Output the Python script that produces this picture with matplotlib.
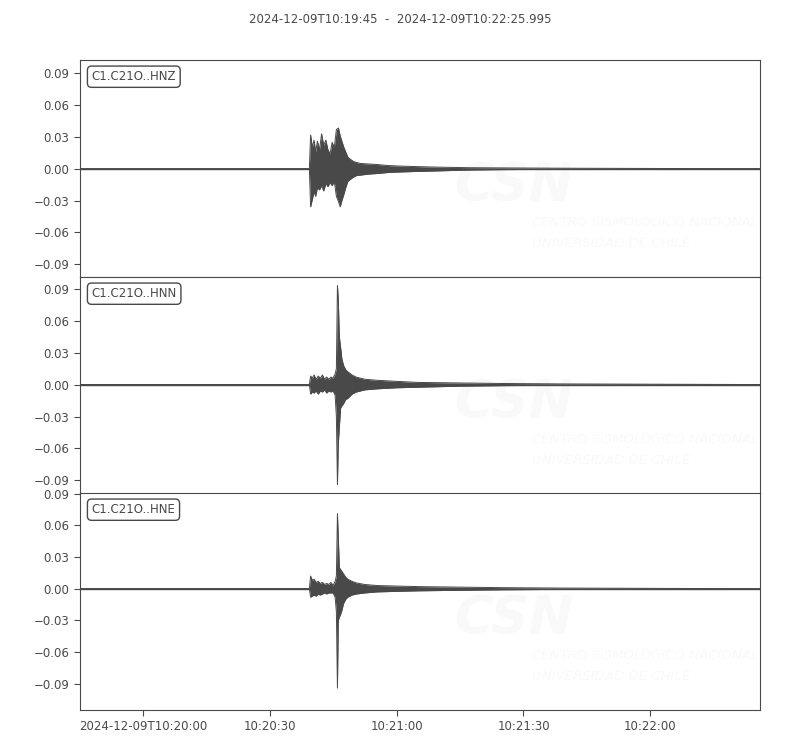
import numpy as np
import matplotlib
matplotlib.use("Agg")
import matplotlib.pyplot as plt
from matplotlib.ticker import MultipleLocator

# --- data --------------------------------------------------------------------
# start / end of the record
t_start = np.datetime64('2024-12-09T10:19:45.000')
t_end = np.datetime64('2024-12-09T10:22:25.995')
title = "2024-12-09T10:19:45  -  2024-12-09T10:22:25.995"

channels = ["C1.C21O..HNZ", "C1.C21O..HNN", "C1.C21O..HNE"]

# envelope of each trace: seconds after t_start, upper and lower amplitude
hnz_t = [0, 54.3, 54.6, 55.0, 55.4, 55.8, 56.2, 56.7, 57.2, 57.7, 58.2, 58.7, 59.2, 59.7, 60.2,
         60.7, 61.2, 61.6, 62.0, 62.4, 62.9, 63.4, 64.0, 64.7, 65.4, 66.4, 68.4, 70.4, 73, 76, 80, 85,
         92, 100, 115, 160.995]
hnz_up = [0, 0, 0.032, 0.020, 0.027, 0.016, 0.026, 0.018, 0.033, 0.022, 0.027, 0.018, 0.014, 0.025,
          0.020, 0.037, 0.0385, 0.031, 0.026, 0.021, 0.016, 0.011, 0.009, 0.007, 0.006, 0.005,
          0.0045, 0.004, 0.003, 0.0025, 0.002, 0.0015, 0.001, 0.0008, 0.0005, 0]
hnz_lo = [0, 0, -0.036, -0.029, -0.022, -0.026, -0.018, -0.020, -0.016, -0.021, -0.014, -0.017,
          -0.013, -0.016, -0.012, -0.026, -0.031, -0.036, -0.030, -0.025, -0.018, -0.012, -0.010,
          -0.008, -0.0065, -0.006, -0.005, -0.0045, -0.0035, -0.003, -0.0025, -0.002, -0.0012,
          -0.0008, -0.0005, 0]

hnn_t = [0, 54.3, 54.6, 55.0, 55.4, 55.9, 56.4, 56.9, 57.4, 57.9, 58.4, 58.9, 59.4, 59.9, 60.4,
         60.7, 60.95, 61.15, 61.4, 61.7, 62.0, 62.4, 62.9, 63.4, 64.4, 65.4, 67.4, 70.4, 75, 80, 90, 100,
         115, 160.995]
hnn_up = [0, 0, 0.008, 0.006, 0.009, 0.005, 0.008, 0.006, 0.009, 0.005, 0.007, 0.005, 0.007, 0.006,
          0.010, 0.015, 0.093, 0.080, 0.045, 0.035, 0.024, 0.018, 0.014, 0.012, 0.009, 0.007,
          0.005, 0.004, 0.003, 0.002, 0.0015, 0.001, 0.0006, 0]
hnn_lo = [0, 0, -0.009, -0.007, -0.008, -0.006, -0.009, -0.006, -0.007, -0.005, -0.008, -0.006,
          -0.007, -0.006, -0.010, -0.030, -0.094, -0.056, -0.040, -0.022, -0.020, -0.018, -0.014,
          -0.013, -0.009, -0.007, -0.005, -0.004, -0.003, -0.0025, -0.0015, -0.001, -0.0006, 0]

hne_t = [0, 54.3, 54.6, 55.0, 55.4, 55.9, 56.4, 56.9, 57.4, 57.9, 58.4, 58.9, 59.4, 59.9, 60.4,
         60.7, 60.95, 61.15, 61.4, 61.9, 62.4, 62.9, 63.4, 64.4, 65.4, 67.4, 70.4, 75, 80, 90, 100,
         115, 160.995]
hne_up = [0, 0, 0.012, 0.008, 0.009, 0.006, 0.007, 0.005, 0.006, 0.004, 0.005, 0.004, 0.006, 0.003,
          0.007, 0.012, 0.071, 0.049, 0.020, 0.017, 0.014, 0.011, 0.009, 0.007, 0.0055, 0.004,
          0.003, 0.0025, 0.002, 0.0015, 0.001, 0.0006, 0]
hne_lo = [0, 0, -0.008, -0.007, -0.006, -0.007, -0.005, -0.006, -0.005, -0.004, -0.005, -0.004,
          -0.004, -0.004, -0.008, -0.022, -0.094, -0.030, -0.027, -0.022, -0.014, -0.010, -0.008,
          -0.006, -0.005, -0.004, -0.003, -0.0025, -0.002, -0.0015, -0.001, -0.0006, 0]

ylims = [(-0.1022, 0.1027), (-0.1027, 0.1010), (-0.1146, 0.0905)]

tick_times = ['2024-12-09T10:20:00', '2024-12-09T10:20:30', '2024-12-09T10:21:00',
              '2024-12-09T10:21:30', '2024-12-09T10:22:00']
tick_labels = ['2024-12-09T10:20:00', '10:20:30', '10:21:00', '10:21:30', '10:22:00']

# --- plot -----------------------------------------------------------------------
grey = '#494949'
wm = '#f9f9f9'
plt.rcParams['font.family'] = 'DejaVu Sans'
plt.rcParams['font.size'] = 8.5

fig = plt.figure(figsize=(8, 7.5), dpi=100)
fig.suptitle(title, x=0.5, y=0.983, fontsize=8.5, color=grey, va='top')

tops = [0.92, 0.6307, 0.3427]
h = 0.2893
traces = [(hnz_t, hnz_up, hnz_lo), (hnn_t, hnn_up, hnn_lo), (hne_t, hne_up, hne_lo)]
span = (t_end - t_start) / np.timedelta64(1, 's')
tick_pos = [(np.datetime64(t) - t_start) / np.timedelta64(1, 's') for t in tick_times]

for i, (t, up, lo) in enumerate(traces):
    ax = fig.add_axes([0.1, tops[i] - h, 0.85, h])
    # faint watermark
    ax.text(0.55, 0.42, 'CSN', transform=ax.transAxes, fontsize=38, fontweight='bold',
            style='italic', color=wm, va='center', ha='left', zorder=0, clip_on=True)
    ax.text(0.665, 0.25, 'CENTRO SISMOLÓGICO NACIONAL', transform=ax.transAxes, fontsize=9.5,
            style='italic', color=wm, va='center', ha='left', zorder=0, clip_on=True)
    ax.text(0.665, 0.155, 'UNIVERSIDAD DE CHILE', transform=ax.transAxes, fontsize=9.5,
            style='italic', color=wm, va='center', ha='left', zorder=0, clip_on=True)

    ax.fill_between(t, lo, up, color=grey, linewidth=0, zorder=2)
    ax.plot(t, up, color=grey, lw=0.7, zorder=3)
    ax.plot(t, lo, color=grey, lw=0.7, zorder=3)
    ax.axhline(0, color=grey, lw=1.0, zorder=3)

    ax.set_xlim(0, span)
    ax.set_ylim(*ylims[i])
    ax.yaxis.set_major_locator(MultipleLocator(0.03))
    ax.tick_params(axis='both', direction='out', length=4, colors=grey, labelcolor=grey,
                   labelsize=8.5)
    for s in ax.spines.values():
        s.set_color(grey)
    ax.text(0.017, 0.923, channels[i], transform=ax.transAxes, fontsize=8.5, color=grey,
            va='center', ha='left', zorder=5,
            bbox=dict(boxstyle='round,pad=0.35', fc='white', ec=grey, lw=1))
    ax.set_xticks(tick_pos)
    if i < 2:
        ax.tick_params(axis='x', bottom=False, labelbottom=False)
    else:
        ax.set_xticklabels(tick_labels)

fig.savefig('out.png', dpi=100)
